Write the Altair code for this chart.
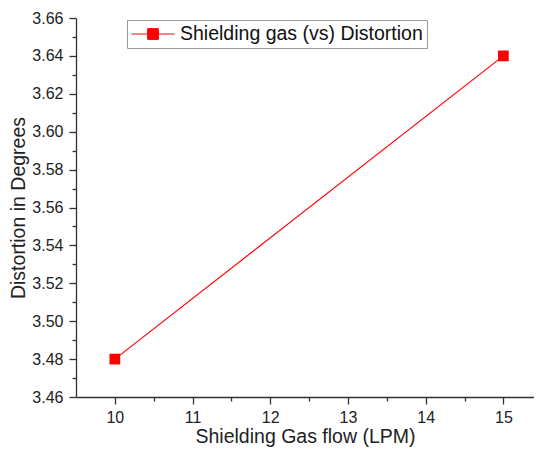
import altair as alt
import pandas as pd

flow = [10, 15]
distortion = [3.48, 3.64]
series_name = "Shielding gas (vs) Distortion"

x_ticks = [10, 10.5, 11, 11.5, 12, 12.5, 13, 13.5, 14, 14.5, 15]
y_ticks = [3.46, 3.47, 3.48, 3.49, 3.50, 3.51, 3.52, 3.53, 3.54, 3.55, 3.56,
           3.57, 3.58, 3.59, 3.60, 3.61, 3.62, 3.63, 3.64, 3.65, 3.66]

df = pd.DataFrame({"flow": flow, "distortion": distortion, "series": [series_name] * len(flow)})

FONT = "Liberation Sans"
AX = "#333333"

x_axis = alt.Axis(
    title="Shielding Gas flow (LPM)",
    values=x_ticks,
    labelExpr="round(datum.value*2) % 2 == 1 ? '' : format(datum.value, 'd')",
    tickSize={"condition": {"test": "round(datum.value*2) % 2 == 1", "value": 4}, "value": 7},
    grid=False, domainColor=AX, domainWidth=1.3, tickColor=AX, tickWidth=1.3,
    labelFont=FONT, labelFontSize=16, labelColor="#222222", labelPadding=5,
    titleFont=FONT, titleFontSize=19.5, titleFontWeight="normal", titleColor="#222222",
    titlePadding=2, labelFlush=False,
)
y_axis = alt.Axis(
    title="Distortion in Degrees",
    values=y_ticks,
    labelExpr="round(datum.value*100) % 2 == 1 ? '' : format(datum.value, '.2f')",
    tickSize={"condition": {"test": "round(datum.value*100) % 2 == 1", "value": 4}, "value": 7},
    grid=False, domainColor=AX, domainWidth=1.3, tickColor=AX, tickWidth=1.3,
    labelFont=FONT, labelFontSize=16, labelColor="#222222", labelPadding=6,
    titleFont=FONT, titleFontSize=19.5, titleFontWeight="normal", titleColor="#222222",
    titlePadding=3, labelFlush=False,
)

legend = alt.Legend(
    title=None,
    orient="none", legendX=51, legendY=2,
    symbolType="M-1,0H1M-0.25,-0.25H0.25V0.25H-0.25Z",
    symbolSize=1849, clipHeight=20, symbolOffset=0, labelOffset=5,
    symbolFillColor="#ff0000", symbolStrokeColor="#ff0000", symbolStrokeWidth=1,
    symbolOpacity=1, labelLimit=0,
    labelFont=FONT, labelFontSize=19.5, labelColor="#111111",
    padding=4, strokeColor="#9a9a9a", fillColor="white",
)

chart = alt.Chart(df).mark_line(
    strokeWidth=1.2,
    point=alt.OverlayMarkDef(shape="square", filled=True, size=115, opacity=1),
).encode(
    x=alt.X("flow:Q", scale=alt.Scale(domain=[9.5, 15.394], nice=False, zero=False), axis=x_axis),
    y=alt.Y("distortion:Q", scale=alt.Scale(domain=[3.46, 3.66], nice=False, zero=False), axis=y_axis),
    color=alt.Color("series:N", scale=alt.Scale(domain=[series_name], range=["#ff0000"]), legend=legend),
).properties(
    width=458, height=379,
    autosize=alt.AutoSizeParams(type="none"),
    padding={"left": 68, "top": 10, "right": 0, "bottom": 51},
    background="white",
).configure_view(stroke=None)

chart.save("out.html", embed_options={"renderer": "svg", "actions": False})
